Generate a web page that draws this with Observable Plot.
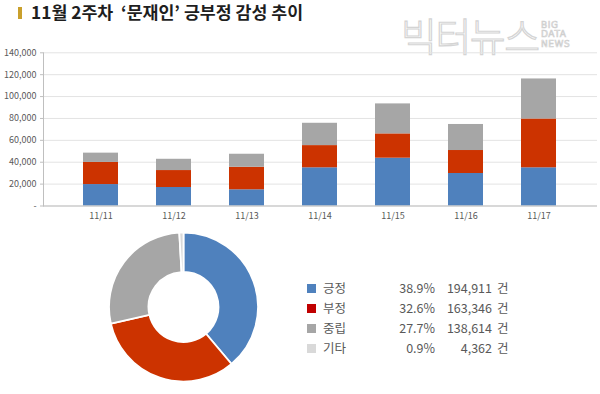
<!DOCTYPE html>
<html><head><meta charset="utf-8">
<script src="https://cdn.jsdelivr.net/npm/d3@7"></script>
<script src="https://cdn.jsdelivr.net/npm/@observablehq/plot@0.6"></script>
<style>
body{margin:0;background:#fff;font-family:"Noto Sans CJK KR","Noto Sans",sans-serif;}
#wrap{position:relative;width:600px;height:394px;overflow:hidden;background:#fff;}
#icon{position:absolute;left:18px;top:7px;width:4px;height:12px;background:#c9a02c;}
#title{position:absolute;left:31px;top:1px;font-size:17.3px;font-weight:bold;color:#1e1e1e;white-space:pre;line-height:22px;}
#wm{position:absolute;left:401px;top:15px;font-size:39px;font-weight:300;color:#fff;-webkit-text-stroke:1.2px #d4d4d4;letter-spacing:-1.5px;line-height:39px;}
#wm2{position:absolute;left:541px;top:21px;font-family:"DejaVu Sans",sans-serif;font-size:9px;line-height:9.4px;letter-spacing:0.6px;color:#fff;-webkit-text-stroke:0.7px #cfcfcf;}
#bars{position:absolute;left:0;top:40px;}
#donut{position:absolute;left:83px;top:223px;}
#legend{position:absolute;left:300px;top:278px;font-size:12.5px;color:#595959;}
.row{position:relative;height:20px;width:220px;}
.sw{position:absolute;left:7px;top:6px;width:9px;height:9px;}
.lab{position:absolute;left:23px;top:0;line-height:20px;}
.pct{position:absolute;right:85px;top:0;line-height:20px;text-align:right;}
.cnt{position:absolute;right:28px;top:0;line-height:20px;text-align:right;}
.unit{position:absolute;left:197px;top:0;line-height:20px;}
</style></head><body>
<div id="wrap">
  <div id="icon"></div>
  <div id="title">11월 2주차  ‘문재인’ 긍부정 감성 추이</div>
  <div id="wm">빅터뉴스</div>
  <div id="wm2">BIG<br>DATA<br>NEWS</div>
  <div id="bars"></div>
  <div id="donut"></div>
  <div id="legend"></div>
</div>
<script>
// ---- data ----
const dates = ["11/11","11/12","11/13","11/14","11/15","11/16","11/17"];
const positive = [19600, 16900, 14800, 34900, 43700, 29700, 34900];
const negative = [20200, 15500, 20600, 20300, 22200, 21000, 44600];
const neutral  = [8500, 10300, 11900, 20400, 27400, 23800, 36600];
const seriesNames = ["긍정","부정","중립"];
const yTicks = [0, 20000, 40000, 60000, 80000, 100000, 120000, 140000];

const categories = ["긍정","부정","중립","기타"];
const shares = [38.9, 32.6, 27.7, 0.9];
const counts = [194911, 163346, 138614, 4362];
const unitLabel = "건";

// ---- styles ----
const barColors = ["#4f81bd", "#cc3300", "#a6a6a6"];
const pieColors = ["#4f81bd", "#cc3300", "#a6a6a6", "#d9d9d9"];
const legendColors = ["#4f81bd", "#c00000", "#a6a6a6", "#d9d9d9"];

const rows = [];
[positive, negative, neutral].forEach((arr, si) => {
  arr.forEach((v, i) => rows.push({date: dates[i], series: seriesNames[si], value: v}));
});

const fmt = d3.format(",");
const barChart = Plot.plot({
  width: 600,
  height: 190,
  marginTop: 12.3,
  marginBottom: 24.5,
  marginLeft: 43,
  marginRight: 3,
  style: {fontFamily: "'Noto Sans CJK KR', sans-serif", color: "#595959", background: "transparent"},
  x: {domain: dates, padding: 0.52, label: null},
  y: {domain: [0, 140000], label: null},
  color: {domain: seriesNames, range: barColors},
  marks: [
    Plot.gridY(yTicks, {stroke: "#e3e3e3", strokeOpacity: 1}),
    Plot.barY(rows, {x: "date", y: "value", fill: "series"}),
    Plot.ruleY([0], {stroke: "#bfbfbf"}),
    Plot.frame({anchor: "left", stroke: "#bfbfbf"}),
    Plot.axisY(yTicks, {tickSize: 3, tickPadding: 4, fontSize: 9, stroke: "#bfbfbf", fill: "#595959",
      tickFormat: d => d === 0 ? "-" : fmt(d)}),
    Plot.axisX({tickSize: 0, tickPadding: 7, fontSize: 9, fill: "#595959"})
  ]
});
document.getElementById("bars").appendChild(barChart);

// ---- donut ----
const pieData = categories.map((c, i) => ({cat: c, share: shares[i]}));
const donut = Plot.plot({
  width: 200,
  height: 170,
  margin: 0,
  x: {axis: null}, y: {axis: null},
  color: {domain: categories, range: pieColors},
  style: {background: "transparent"},
  marks: [
    Plot.dot(pieData, {fill: "cat", r: 0}),
    (index, scales, values, dims) => {
      const arcs = d3.pie().sort(null).value(d => d.share)(pieData);
      const arc = d3.arc().innerRadius(35).outerRadius(74.5);
      const g = d3.create("svg:g").attr("transform", `translate(${dims.width / 2 + 0.5},${dims.height / 2 - 1})`);
      g.selectAll("path").data(arcs).join("path")
        .attr("d", arc)
        .attr("fill", d => scales.color(d.data.cat))
        .attr("stroke", "#fff")
        .attr("stroke-width", 1.8);
      return g.node();
    }
  ]
});
document.getElementById("donut").appendChild(donut);

// ---- legend table ----
const legend = document.getElementById("legend");
categories.forEach((c, i) => {
  const r = document.createElement("div");
  r.className = "row";
  r.innerHTML = `<div class="sw" style="background:${legendColors[i]}"></div>
    <div class="lab">${c}</div>
    <div class="pct">${shares[i].toFixed(1)}%</div>
    <div class="cnt">${fmt(counts[i])}</div>
    <div class="unit">${unitLabel}</div>`;
  legend.appendChild(r);
});
</script>
</body></html>
